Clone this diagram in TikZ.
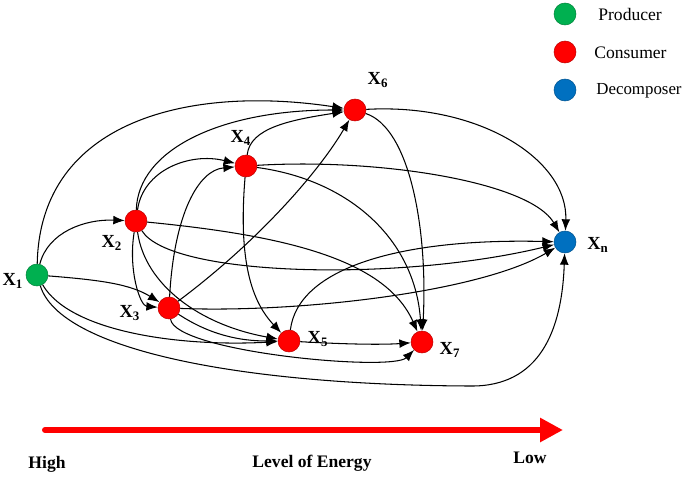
\documentclass[tikz,border=0pt]{standalone}
\usepackage{fontspec}
\setmainfont{Liberation Serif}
\usetikzlibrary{arrows.meta}
\definecolor{prodgreen}{RGB}{0,176,80}
\definecolor{consred}{RGB}{255,0,0}
\definecolor{decblue}{RGB}{0,112,192}
\begin{document}
\begin{tikzpicture}[x=0.02cm,y=-0.02cm,
  species/.style={circle, minimum size=0.44cm, inner sep=0pt, draw=#1!75!black, line width=0.3pt, fill=#1},
  lbl/.style={font=\fontsize{10.5}{12}\selectfont\bfseries, inner sep=0pt},
  flow/.style={draw=black, line width=0.6pt, -{Latex[length=6.5pt,width=5pt]}},
  legtext/.style={font=\fontsize{10}{12}\selectfont, anchor=west, inner sep=0pt},
  axistext/.style={font=\fontsize{10}{12}\selectfont\bfseries, inner sep=0pt}
]
\useasboundingbox (0,0) rectangle (685,476);

% species
\node[species=prodgreen] (x1) at (37,275) {};
\node[species=consred] (x2) at (136,221) {};
\node[species=consred] (x3) at (169,308) {};
\node[species=consred] (x4) at (246,166) {};
\node[species=consred] (x5) at (289,341) {};
\node[species=consred] (x6) at (355,110) {};
\node[species=consred] (x7) at (422,342) {};
\node[species=decblue] (xn) at (565,242) {};

% labels
\node[lbl] (l1) at (13,281) {X\textsubscript{1}};
\node[lbl] (l2) at (112,243) {X\textsubscript{2}};
\node[lbl] (l3) at (130,313) {X\textsubscript{3}};
\node[lbl] (l4) at (241,138) {X\textsubscript{4}};
\node[lbl] (l5) at (318,339) {X\textsubscript{5}};
\node[lbl] (l6) at (378,80) {X\textsubscript{6}};
\node[lbl] (l7) at (450,350) {X\textsubscript{7}};
\node[lbl] (ln) at (598,245) {X\textsubscript{n}};

% flows
\draw[flow] (x1) .. controls (40,120) and (190,85) .. (x6);
\draw[flow] (x2) .. controls (138,150) and (220,110) .. (x6);
\draw[flow] (x2) .. controls (143,170) and (190,152) .. (x4);
\draw[flow] (x3) .. controls (174,215) and (198,170) .. (x4);
\draw[flow] (x3) .. controls (260,240) and (320,170) .. (x6);
\draw[flow] (x4) .. controls (250,128) and (290,120) .. (x6);
\draw[flow] (x1) .. controls (48,232) and (85,219) .. (x2);
\draw[flow] (x1) .. controls (100,280) and (130,284) .. (x3);
\draw[flow] (x2) .. controls (128,270) and (140,306) .. (x3);
\draw[flow] (x2) .. controls (145,285) and (200,325) .. (x5);
\draw[flow] (x4) .. controls (238,262) and (252,302) .. (x5);
\draw[flow] (x3) .. controls (210,335) and (240,341) .. (x5);
\draw[flow] (x1) .. controls (70,332) and (180,347) .. (x5);
\draw[flow] (x3) .. controls (175,352) and (392,372) .. (x7);
\draw[flow] (x1) .. controls (60,350) and (240,385) .. (470,386)
  .. controls (540,387) and (562,330) .. (xn);
\draw[flow] (x5) .. controls (340,344) and (380,345) .. (x7);
\draw[flow] (x5) .. controls (298,268) and (400,238) .. (xn);
\draw[flow] (x2) .. controls (170,277) and (400,282) .. (xn);
\draw[flow] (x3) .. controls (300,313) and (480,292) .. (xn);
\draw[flow] (x2) .. controls (280,235) and (385,258) .. (x7);
\draw[flow] (x4) .. controls (350,180) and (415,240) .. (x7);
\draw[flow] (x6) .. controls (410,128) and (428,230) .. (x7);
\draw[flow] (x4) .. controls (380,158) and (530,182) .. (xn);
\draw[flow] (x6) .. controls (480,103) and (568,160) .. (xn);

% legend
\node[species=prodgreen] (gp) at (565,14) {};
\node[species=consred] (gc) at (565,52) {};
\node[species=decblue] (gd) at (565,90) {};
\node[legtext] (tp) at (598,14) {Producer};
\node[legtext] (tc) at (594,53) {Consumer};
\node[legtext] (td) at (596,91) {\fontsize{9.6}{12}\selectfont Decomposer};

% energy axis
\coordinate (ea) at (45,430);
\coordinate (eb) at (563,430);
\draw[consred, line width=3.4pt, line cap=round, -{Triangle[length=13pt,width=13pt]}] (ea) -- (eb);
\node[axistext] (th) at (47,464) {High};
\node[axistext] (te) at (312,463) {Level of Energy};
\node[axistext] (tl) at (530,458) {Low};
\end{tikzpicture}
\end{document}
